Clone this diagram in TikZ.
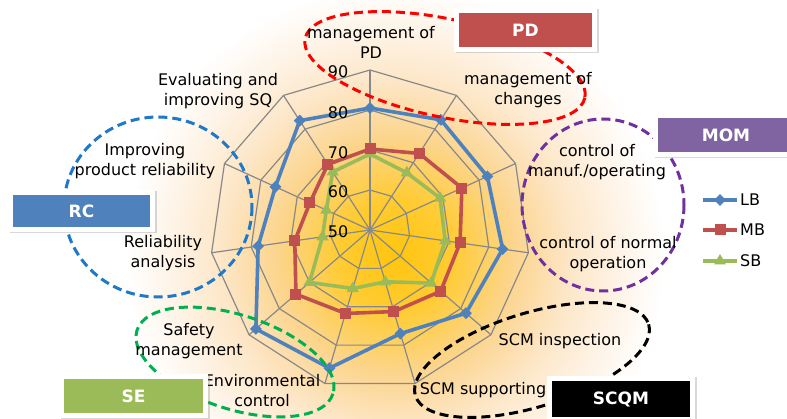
\documentclass[tikz,border=0pt]{standalone}
\usepackage{fontspec}
\setmainfont{DejaVu Sans}
\usetikzlibrary{shadows,shapes.geometric}

\definecolor{lbc}{HTML}{4F81BD}
\definecolor{mbc}{HTML}{C0504D}
\definecolor{sbc}{HTML}{9BBB59}
\definecolor{momc}{HTML}{8064A2}
\definecolor{gridc}{HTML}{888888}
\definecolor{glow}{HTML}{FFC50F}
\definecolor{glowb}{HTML}{FFCB30}
\definecolor{glowc}{HTML}{FCD58E}
\definecolor{glowd}{HTML}{FDE6C6}
\definecolor{glowe}{HTML}{FEF4E8}
\definecolor{dashred}{HTML}{FF0000}
\definecolor{dashblue}{HTML}{1F78C8}
\definecolor{dashpurple}{HTML}{7030A0}
\definecolor{dashgreen}{HTML}{00B050}

\pgfdeclareradialshading{glowshade}{\pgfpoint{0bp}{0bp}}{color(0bp)=(glow); color(5bp)=(glowb); color(11bp)=(glowc); color(16bp)=(glowd); color(21bp)=(glowe); color(25bp)=(white); color(50bp)=(white)}

\tikzset{
  gridline/.style={draw=gridc, line width=1.2pt},
  serline/.style={line width=3.6pt, line join=round},
  lbmark/.style={diamond, fill=lbc, inner sep=0pt, minimum size=12pt},
  mbmark/.style={rectangle, fill=mbc, inner sep=0pt, minimum size=11pt},
  sbmark/.style={regular polygon, regular polygon sides=3, fill=sbc, inner sep=0pt, minimum size=14pt},
  grp/.style={line width=3pt, dash pattern=on 9pt off 5pt},
  lab/.style={align=center, inner sep=0pt, font=\fontsize{16}{20}\selectfont},
  tick/.style={inner sep=0pt, font=\fontsize{16}{20}\selectfont},
  frame/.style={fill=white, inner sep=0pt, drop shadow={opacity=0.3, shadow xshift=1.5pt, shadow yshift=-1.5pt}},
  catbox/.style={inner sep=0pt, text=white, font=\fontsize{17}{20}\selectfont\bfseries},
}

\begin{document}
\begin{tikzpicture}[x=1pt, y=-1pt]
\clip (0,0) rectangle (787,419);
\fill[white] (0,0) rectangle (787,419);

% glow background
\shade[shading=glowshade] (395,255) circle (270);

% radar chart
\begin{scope}[shift={(370,230)}]
  \foreach \r in {40,80,120,160}
    \draw[gridline] (-90:\r) \foreach \k in {1,...,10}{ -- ({\k*360/11-90}:\r)} -- cycle;
  \coordinate (ctr) at (0,0);
  \foreach \k in {0,...,10} {
    \coordinate (ax\k) at ({\k*360/11-90}:160);
    \draw[gridline] (ctr) -- (ax\k);
  }
  \foreach \r [count=\k from 0] in {122,131,129,134,127,108,144,151,113,104,130}
    \coordinate (L\k) at ({\k*360/11-90}:\r);
  \foreach \r [count=\k from 0] in {81,91,101,91,93.5,85,87,98,76,66,78}
    \coordinate (M\k) at ({\k*360/11-90}:\r);
  \foreach \r [count=\k from 0] in {76,68,77,76,81,54,61,80,48,48,69}
    \coordinate (S\k) at ({\k*360/11-90}:\r);
  \draw[serline, sbc] (S0) -- (S1) -- (S2) -- (S3) -- (S4) -- (S5) -- (S6) -- (S7) -- (S8) -- (S9) -- (S10) -- cycle;
  \draw[serline, mbc] (M0) -- (M1) -- (M2) -- (M3) -- (M4) -- (M5) -- (M6) -- (M7) -- (M8) -- (M9) -- (M10) -- cycle;
  \draw[serline, lbc] (L0) -- (L1) -- (L2) -- (L3) -- (L4) -- (L5) -- (L6) -- (L7) -- (L8) -- (L9) -- (L10) -- cycle;
  \foreach \k in {0,...,10} {
    \node[sbmark] (sm\k) at (S\k) {};
    \node[mbmark] (mm\k) at (M\k) {};
    \node[lbmark] (lm\k) at (L\k) {};
  }
\end{scope}

% scale labels
\node[tick] (t50) at (338,232) {50};
\node[tick] (t60) at (338,192) {60};
\node[tick] (t70) at (338,153) {70};
\node[tick] (t80) at (338,113) {80};
\node[tick] (t90) at (338,72) {90};

% group ellipses
\draw[grp, dashred, rotate around={-12:(445,68)}] (445,68) ellipse [x radius=143, y radius=49];
\draw[grp, dashblue] (158,207) ellipse [x radius=94, y radius=90];
\draw[grp, dashpurple] (603,205) ellipse [x radius=81, y radius=86];
\draw[grp, black, rotate around={17:(532,360)}] (532,360) ellipse [x radius=122, y radius=47];
\draw[grp, dashgreen, rotate around={-18:(235,362)}] (235,362) ellipse [x radius=103, y radius=47];

% axis labels
\node[lab] (lab0) at (371,42) {management of\\PD};
\node[lab] (lab1) at (528,90) {management of\\changes};
\node[lab] (lab2) at (597,162) {control of\\manuf./operating};
\node[lab] (lab3) at (608,254) {control of normal\\operation};
\node[lab] (lab4) at (560,341) {SCM inspection};
\node[lab] (lab5) at (483,390) {SCM supporting};
\node[lab] (lab6) at (262,391) {Environmental\\control};
\node[lab] (lab7) at (189,341) {Safety\\management};
\node[lab] (lab8) at (163,253) {Reliability\\analysis};
\node[lab] (lab9) at (145,161) {Improving\\product reliability};
\node[lab] (lab10) at (218,91) {Evaluating and\\improving SQ};

% category boxes
\node[frame, minimum width=143pt, minimum height=44pt] (pdf) at (525.5,30) {};
\node[catbox, fill=mbc, minimum width=133pt, minimum height=34pt] (pd) at (pdf) {PD};
\node[frame, minimum width=146pt, minimum height=44pt] (momf) at (726,135) {};
\node[catbox, fill=momc, minimum width=136pt, minimum height=34pt] (mom) at (momf) {MOM};
\node[frame, minimum width=147pt, minimum height=42pt] (rcf) at (81.5,211) {};
\node[catbox, fill=lbc, minimum width=137pt, minimum height=32pt] (rc) at (rcf) {RC};
\node[frame, minimum width=149pt, minimum height=44pt] (sef) at (133.5,396) {};
\node[catbox, fill=sbc, minimum width=139pt, minimum height=34pt] (se) at (sef) {SE};
\node[frame, minimum width=148pt, minimum height=46pt] (scqmf) at (621,399) {};
\node[catbox, fill=black, minimum width=138pt, minimum height=36pt] (scqm) at (scqmf) {SCQM};

% legend
\coordinate (lga1) at (703,200); \coordinate (lgb1) at (737,200);
\coordinate (lga2) at (703,230); \coordinate (lgb2) at (737,230);
\coordinate (lga3) at (703,261); \coordinate (lgb3) at (737,261);
\draw[serline, lbc] (lga1) -- (lgb1);
\draw[serline, mbc] (lga2) -- (lgb2);
\draw[serline, sbc] (lga3) -- (lgb3);
\node[lbmark] (lgm1) at (720,200) {};
\node[mbmark] (lgm2) at (720,230) {};
\node[sbmark] (lgm3) at (720,261) {};
\node[tick, anchor=west] (lgt1) at (740,200) {LB};
\node[tick, anchor=west] (lgt2) at (740,230) {MB};
\node[tick, anchor=west] (lgt3) at (740,261) {SB};
\end{tikzpicture}
\end{document}
